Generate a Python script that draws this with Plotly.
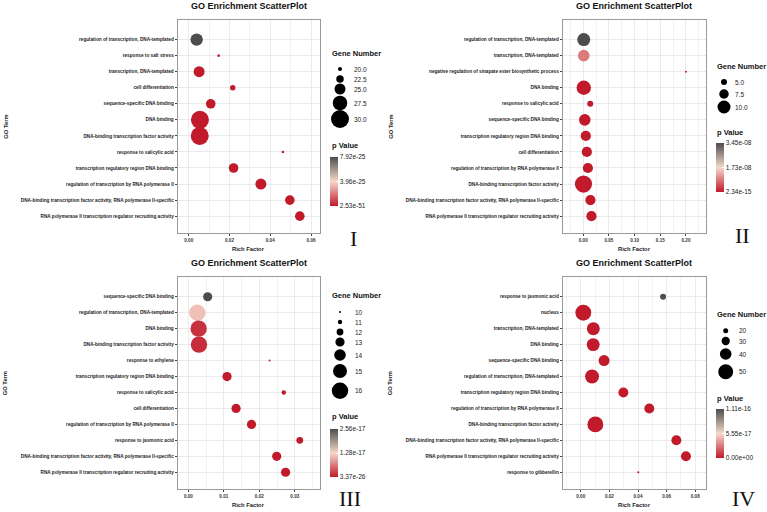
import plotly.graph_objects as go

W, H = 767, 512

# ---------------- DATA ----------------
# Panel I
terms_1 = ["regulation of transcription, DNA-templated", "response to salt stress",
           "transcription, DNA-templated", "cell differentiation", "sequence-specific DNA binding",
           "DNA binding", "DNA-binding transcription factor activity", "response to salicylic acid",
           "transcription regulatory region DNA binding", "regulation of transcription by RNA polymerase II",
           "DNA-binding transcription factor activity, RNA polymerase II-specific",
           "RNA polymerase II transcription regulator recruiting activity"]
rich_1 = [0.0039, 0.0147, 0.0051, 0.0216, 0.0108, 0.0055, 0.0054, 0.0462, 0.0220, 0.0354, 0.0496, 0.0545]
genes_1 = [26, 19, 25, 21, 24, 30, 30, 19, 24, 25, 24, 24]
pval_1 = [7.92e-25, 3.1e-30, 1.2e-38, 4.5e-33, 2.2e-40, 2.53e-51, 6.1e-49, 8.0e-29, 3.3e-41, 1.5e-45, 2.7e-47, 5.2e-48]
gene_legend_1 = [20.0, 22.5, 25.0, 27.5, 30.0]

# Panel II
terms_2 = ["regulation of transcription, DNA-templated", "transcription, DNA-templated",
           "negative regulation of sinapate ester biosynthetic process", "DNA binding",
           "response to salicylic acid", "sequence-specific DNA binding",
           "transcription regulatory region DNA binding", "cell differentiation",
           "regulation of transcription by RNA polymerase II", "DNA-binding transcription factor activity",
           "DNA-binding transcription factor activity, RNA polymerase II-specific",
           "RNA polymerase II transcription regulator recruiting activity"]
rich_2 = [0.001, 0.001, 0.200, 0.001, 0.0136, 0.003, 0.005, 0.007, 0.009, 0.0005, 0.014, 0.016]
genes_2 = [10, 9, 1, 11, 5, 9, 8, 8, 8, 13, 8, 8]
pval_2 = [3.4512e-08, 8.6e-09, 4.1e-10, 2.1e-12, 6.3e-11, 5.5e-13, 7.7e-12, 1.9e-12, 3.6e-13, 2.34e-15, 4.8e-14, 9.9e-14]
gene_legend_2 = [5.0, 7.5, 10.0]

# Panel III
terms_3 = ["sequence-specific DNA binding", "regulation of transcription, DNA-templated", "DNA binding",
           "DNA-binding transcription factor activity", "response to ethylene",
           "transcription regulatory region DNA binding", "response to salicylic acid",
           "cell differentiation", "regulation of transcription by RNA polymerase II",
           "response to jasmonic acid",
           "DNA-binding transcription factor activity, RNA polymerase II-specific",
           "RNA polymerase II transcription regulator recruiting activity"]
rich_3 = [0.00545, 0.00254, 0.0029, 0.0030, 0.0229, 0.0109, 0.0269, 0.01345, 0.0178, 0.0314, 0.0249, 0.0274]
genes_3 = [13, 16, 16, 16, 10, 13, 11, 13, 13, 12, 13, 13]
pval_3 = [2.56e-17, 1.12e-17, 1.6e-18, 1.3e-18, 4.2e-20, 2.5e-22, 7.1e-21, 3.9e-23, 1.1e-24, 2.2e-21, 3.37e-26, 8.8e-26]
gene_legend_3 = [10, 11, 12, 13, 14, 15, 16]

# Panel IV
terms_4 = ["response to jasmonic acid", "nucleus", "transcription, DNA-templated", "DNA binding",
           "sequence-specific DNA binding", "regulation of transcription, DNA-templated",
           "transcription regulatory region DNA binding", "regulation of transcription by RNA polymerase II",
           "DNA-binding transcription factor activity",
           "DNA-binding transcription factor activity, RNA polymerase II-specific",
           "RNA polymerase II transcription regulator recruiting activity", "response to gibberellin"]
rich_4 = [0.0575, 0.0018, 0.0088, 0.0087, 0.0163, 0.0079, 0.0298, 0.0479, 0.0102, 0.0668, 0.0735, 0.0402]
genes_4 = [23, 53, 44, 44, 38, 47, 35, 35, 53, 35, 35, 11]
pval_4 = [1.1102e-16, 0.0, 0.0, 0.0, 0.0, 0.0, 0.0, 0.0, 0.0, 0.0, 0.0, 0.0]
gene_legend_4 = [20, 30, 40, 50]

# ---------------- STYLE / LAYOUT ----------------
RED, MID, GREY = "#C01A2B", "#F6D8CB", "#4D4D4D"
CSCALE = [[0, RED], [0.5, MID], [1, GREY]]
FONT = "Liberation Sans"

def px(x):
    return x / W

def py(y):
    return 1 - y / H

panels = [
    dict(terms=terms_1, rich=rich_1, genes=genes_1, p=pval_1, legend=gene_legend_1, fmt="{:.1f}",
         box=(177.7, 20, 320, 233), xr=[-0.0054, 0.0644], dtick=0.02, tick0=0,
         smap=(20, 4, 1.4), leg_y=[69, 79, 89, 103, 119], leg_dot_x=340, leg_lab_x=352,
         gn=(330, 53), pv=(330, 145.7), cb=(330, 157, 206), roman="I", rom=(353, 238)),
    dict(terms=terms_2, rich=rich_2, genes=genes_2, p=pval_2, legend=gene_legend_2, fmt="{:.1f}",
         box=(562.7, 20, 706, 233), xr=[-0.040, 0.239], dtick=0.05, tick0=0,
         smap=(5, 6, 1.4), leg_y=[82, 94, 107], leg_dot_x=724, leg_lab_x=733,
         gn=(715, 66), pv=(715, 132), cb=(716, 143, 192), roman="II", rom=(742, 235)),
    dict(terms=terms_3, rich=rich_3, genes=genes_3, p=pval_3, legend=gene_legend_3, fmt="{:d}",
         box=(177.7, 277.3, 320, 489), xr=[-0.0030, 0.0371], dtick=0.01, tick0=0,
         smap=(10, 2, 2.4), leg_y=[312, 322, 332, 342, 355, 371, 390.7], leg_dot_x=340, leg_lab_x=353,
         gn=(330, 295), pv=(330, 416.7), cb=(330, 429, 477), roman="III", rom=(350, 498)),
    dict(terms=terms_4, rich=rich_4, genes=genes_4, p=pval_4, legend=gene_legend_4, fmt="{:d}",
         box=(562.7, 277.3, 706, 489), xr=[-0.0126, 0.0875], dtick=0.02, tick0=0,
         smap=(20, 5, 0.33), leg_y=[330.7, 341, 354, 371.7], leg_dot_x=725.7, leg_lab_x=737,
         gn=(715, 314), pv=(715, 398), cb=(716, 409, 458), roman="IV", rom=(743, 498)),
]

fig = go.Figure()
annotations = []
shapes = []

def size_of(v, smap):
    v0, d0, k = smap
    return max(2.0, d0 + k * (v - v0))

for i, P in enumerate(panels):
    n = i + 1
    xa = "x" if n == 1 else f"x{n}"
    ya = "y" if n == 1 else f"y{n}"
    xl = "xaxis" if n == 1 else f"xaxis{n}"
    yl = "yaxis" if n == 1 else f"yaxis{n}"
    x0, y0, x1, y1 = P["box"]
    pmin, pmax = min(P["p"]), max(P["p"])
    pmid = (pmin + pmax) / 2
    cbx, cbt, cbb = P["cb"]
    sizes = [size_of(g, P["smap"]) for g in P["genes"]]
    fig.add_trace(go.Scatter(
        x=P["rich"], y=P["terms"], mode="markers", xaxis=xa, yaxis=ya, showlegend=False,
        marker=dict(size=sizes, sizemode="diameter", color=P["p"], colorscale=CSCALE,
                    cmin=pmin, cmax=pmax, opacity=1, line=dict(width=0),
                    showscale=True,
                    colorbar=dict(x=px(cbx), xanchor="left", y=py(cbt), yanchor="top",
                                  len=cbb - cbt, lenmode="pixels", thickness=8, thicknessmode="pixels",
                                  outlinewidth=0, xpad=0, ypad=0,
                                  tickvals=[pmin, pmid, pmax],
                                  ticktext=[f"{pmin:.2e}", f"{pmid:.2e}", f"{pmax:.2e}"],
                                  ticks="inside", ticklen=2, tickcolor="white",
                                  tickfont=dict(family=FONT, size=6.5, color="#1a1a1a"))),
    ))
    fig.layout[xl] = dict(domain=[px(x0), px(x1)], anchor=ya, range=P["xr"], dtick=P["dtick"],
                          tick0=P["tick0"], tickformat=".2f", showgrid=True, gridcolor="#EBEBEB",
                          gridwidth=0.7, zeroline=False, showline=True, mirror=True,
                          linecolor="#9A9A9A", linewidth=1, ticks="outside", ticklen=2,
                          tickwidth=0.6, tickcolor="#444", automargin=False,
                          tickfont=dict(family=FONT, size=4.6, color="#333", weight="bold"),
                          minor=dict(dtick=P["dtick"] / 2, tick0=P["tick0"], showgrid=True,
                                     gridcolor="#F2F2F2", gridwidth=0.5, ticks=""))
    fig.layout[yl] = dict(domain=[py(y1), py(y0)], anchor=xa, type="category",
                          categoryorder="array", categoryarray=list(reversed(P["terms"])),
                          range=[-1.05, 12.22], showgrid=True, gridcolor="#EBEBEB", gridwidth=0.7,
                          zeroline=False, showline=True, mirror=True, linecolor="#9A9A9A",
                          linewidth=1, ticks="outside", ticklen=2, tickwidth=0.6, tickcolor="#444",
                          automargin=False,
                          tickfont=dict(family=FONT, size=4.7, color="#222", weight="bold"))
    cx = (x0 + x1) / 2
    cy = (y0 + y1) / 2
    annotations.append(dict(text="GO Enrichment ScatterPlot", x=px(cx), y=py(y0 - 14), xref="paper",
                            yref="paper", xanchor="center", yanchor="middle", showarrow=False,
                            font=dict(family=FONT, size=9, color="#111", weight="bold")))
    annotations.append(dict(text="Rich Factor", x=px(cx), y=py(y1 + 16.3), xref="paper", yref="paper",
                            xanchor="center", yanchor="middle", showarrow=False,
                            font=dict(family=FONT, size=5.8, color="#222", weight="bold")))
    annotations.append(dict(text="GO Term", x=px(x0 - 172.5), y=py(cy), xref="paper", yref="paper",
                            xanchor="center", yanchor="middle", showarrow=False, textangle=-90,
                            font=dict(family=FONT, size=5.8, color="#222", weight="bold")))
    annotations.append(dict(text="Gene Number", x=px(P["gn"][0]), y=py(P["gn"][1]), xref="paper",
                            yref="paper", xanchor="left", yanchor="middle", showarrow=False,
                            font=dict(family=FONT, size=7.5, color="#111", weight="bold")))
    for v, yy in zip(P["legend"], P["leg_y"]):
        d = size_of(v, P["smap"])
        shapes.append(dict(type="circle", xref="paper", yref="paper", xsizemode="pixel",
                           ysizemode="pixel", xanchor=px(P["leg_dot_x"]), yanchor=py(yy),
                           x0=-d / 2, x1=d / 2, y0=-d / 2, y1=d / 2, fillcolor="black",
                           line=dict(width=0)))
        annotations.append(dict(text=P["fmt"].format(v), x=px(P["leg_lab_x"]), y=py(yy), xref="paper",
                                yref="paper", xanchor="left", yanchor="middle", showarrow=False,
                                font=dict(family=FONT, size=6.5, color="#1a1a1a")))
    annotations.append(dict(text="p Value", x=px(P["pv"][0]), y=py(P["pv"][1]), xref="paper",
                            yref="paper", xanchor="left", yanchor="middle", showarrow=False,
                            font=dict(family=FONT, size=7.5, color="#111", weight="bold")))
    annotations.append(dict(text=P["roman"], x=px(P["rom"][0]), y=py(P["rom"][1]), xref="paper",
                            yref="paper", xanchor="center", yanchor="middle", showarrow=False,
                            font=dict(family="Liberation Serif", size=22, color="#111")))

fig.update_layout(width=W, height=H, margin=dict(l=0, r=0, t=0, b=0), paper_bgcolor="white",
                  plot_bgcolor="white", annotations=annotations, shapes=shapes, showlegend=False)

fig.write_html("out.html", config={"displayModeBar": False},
               post_script="document.body.style.margin='0';document.body.style.overflow='hidden';")
